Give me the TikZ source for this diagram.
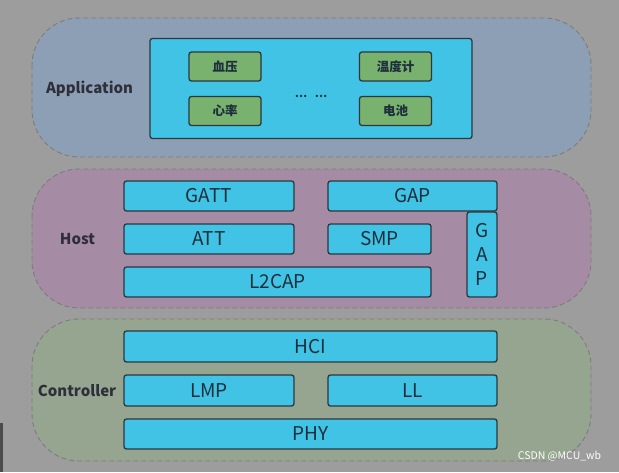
\documentclass[tikz,border=0pt]{standalone}
\usepackage{fontspec}
\setmainfont{Noto Sans CJK SC}
\begin{document}
\begin{tikzpicture}[x=1pt,y=-1pt,
  layer/.style={draw=dashgray, dash pattern=on 5pt off 3pt, line width=0.9pt, rounded corners=47pt},
  blk/.style={draw=boxline, fill=cyanbox, rounded corners=2.5pt, line width=1.3pt, inner sep=0pt, text=boxtext, font=\fontsize{19}{22}\selectfont},
  gblk/.style={draw=boxline, fill=greenbox, rounded corners=2.5pt, line width=1.3pt, inner sep=0pt, text=boxtext, font=\fontsize{12.5}{14}\selectfont\bfseries, minimum width=72pt, minimum height=29pt},
  lbl/.style={text=lbltext, font=\fontsize{15}{18}\selectfont\bfseries, inner sep=0pt}
]
\definecolor{bg}{HTML}{9D9D9D}
\definecolor{dashgray}{HTML}{7C7C7C}
\definecolor{appfill}{HTML}{8C9FB4}
\definecolor{hostfill}{HTML}{A68BA4}
\definecolor{ctrlfill}{HTML}{95A58F}
\definecolor{cyanbox}{HTML}{40C3E4}
\definecolor{greenbox}{HTML}{78B26E}
\definecolor{boxline}{HTML}{2B3840}
\definecolor{boxtext}{HTML}{1E2E3C}
\definecolor{lbltext}{HTML}{2E2F3A}
\useasboundingbox (0,0) rectangle (619,472);
\fill[bg] (0,0) rectangle (619,472);
\fill[black!70] (0,423) rectangle (3,472);
% layers
\path[layer, fill=appfill] (32,18) rectangle (591,157);
\path[layer, fill=hostfill] (32,169) rectangle (591,308);
\path[layer, fill=ctrlfill] (32,319) rectangle (591,461);
% labels
\node[lbl] (applbl) at (89.5,89) {Application};
\node[lbl] (hostlbl) at (77.5,239) {Host};
\node[lbl] (ctrllbl) at (77,391) {Controller};
% application
\node[blk, minimum width=322pt, minimum height=100pt] (app) at (311,88.5) {};
\node[gblk] (xueya) at (225,66.5) {血压};
\node[gblk] (wendu) at (395.5,66.5) {温度计};
\node[gblk] (xinlv) at (225,111) {心率};
\node[gblk] (dianchi) at (395.5,111) {电池};
\node[text=boxtext, font=\fontsize{11}{13}\selectfont\bfseries, inner sep=0pt] (dots) at (311,96) {…\ \ \ …};
% host
\node[blk, minimum width=170pt, minimum height=30pt] (gatt) at (209,196) {GATT};
\node[blk, minimum width=169pt, minimum height=30pt] (gap) at (412.5,196) {GAP};
\node[blk, minimum width=170pt, minimum height=30pt] (att) at (209,239) {ATT};
\node[blk, minimum width=103pt, minimum height=30pt] (smp) at (379.5,239) {SMP};
\node[blk, minimum width=307pt, minimum height=30pt] (l2cap) at (277.5,282) {L2CAP};
\node[blk, minimum width=30pt, minimum height=85pt, align=center, font=\fontsize{19}{24}\selectfont] (gapv) at (482,254.5) {G\\A\\P};
% controller
\node[blk, minimum width=373pt, minimum height=31pt] (hci) at (310.5,346.5) {HCI};
\node[blk, minimum width=170pt, minimum height=31pt] (lmp) at (209,390.5) {LMP};
\node[blk, minimum width=169pt, minimum height=31pt] (ll) at (412.5,390.5) {LL};
\node[blk, minimum width=373pt, minimum height=30pt] (phy) at (310.5,434) {PHY};
% watermark
\node[text=white, font=\fontsize{10.5}{12}\selectfont, inner sep=0pt] (wm) at (559.5,456) {CSDN @MCU\_wb};
\end{tikzpicture}
\end{document}
